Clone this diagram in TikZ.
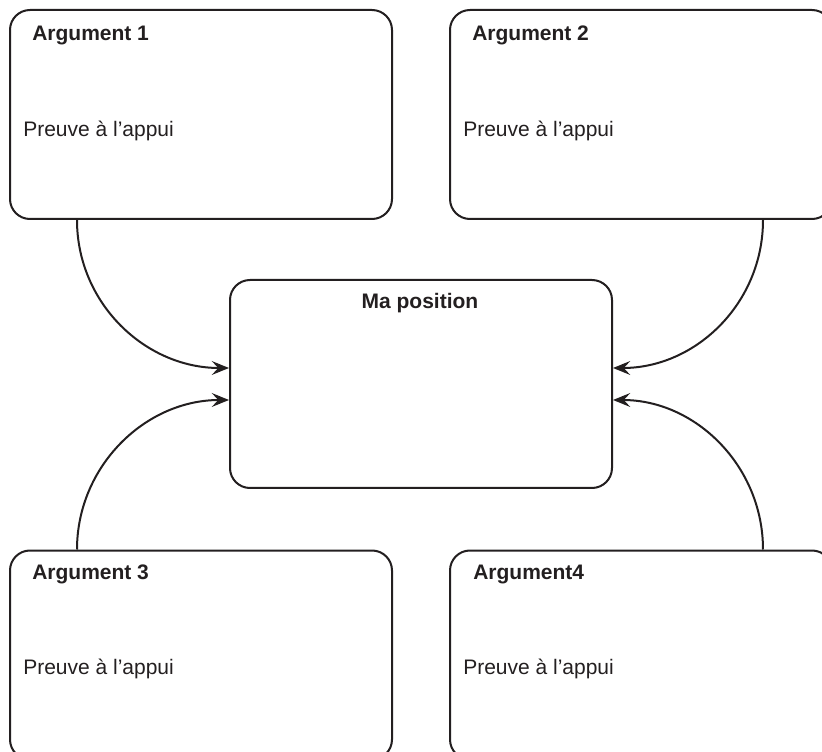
\documentclass[tikz,border=0pt]{standalone}
\usepackage{fontspec}
\setmainfont{Liberation Sans}
\usetikzlibrary{arrows.meta,calc}
\definecolor{ink}{HTML}{231F20}
\tikzset{
  box/.style={draw=ink, line width=1.5pt, rounded corners=15pt, rectangle,
    minimum width=286.5pt, minimum height=156.75pt, inner sep=0pt},
  title/.style={font=\fontsize{15.75pt}{18pt}\selectfont\bfseries, text=ink, inner sep=0pt, anchor=base west},
  body/.style={font=\fontsize{15.75pt}{18pt}\selectfont, text=ink, inner sep=0pt, anchor=base west},
  link/.style={draw=ink, line width=1.5pt, -{Stealth[length=13pt, width=10.5pt, inset=5pt]}}
}
\begin{document}
\begin{tikzpicture}[x=0.75pt, y=-0.75pt]
\useasboundingbox (0,0) rectangle (822,752);
\clip (0,0) rectangle (822,752);
% boxes
\node[box] (a1) at (201,114.5) {};
\node[box] (a2) at (641,114.5) {};
\node[box, minimum height=156pt] (ma) at (421,384) {};
\node[box] (a3) at (201,655) {};
\node[box] (a4) at (641,655) {};
% texts
\node[title] (t1) at (32,40.5) {Argument 1};
\node[body] (p1) at (23,136.5) {Preuve à l’appui};
\node[title] (t2) at (472,40.5) {Argument 2};
\node[body] (p2) at (463,136.5) {Preuve à l’appui};
\node[title, anchor=base] (tm) at (420,309) {Ma position};
\node[title] (t3) at (32,579) {Argument 3};
\node[body] (p3) at (23,674) {Preuve à l’appui};
\node[title] (t4) at (473,579) {Argument4};
\node[body] (p4) at (463,674) {Preuve à l’appui};
% connector points
\coordinate (s1) at ($(a1.south)+(-124,0)$);
\coordinate (s2) at ($(a2.south)+(122,0)$);
\coordinate (s3) at ($(a3.north)+(-124,0)$);
\coordinate (s4) at ($(a4.north)+(122,0)$);
\coordinate (e1) at ($(ma.west)+(0,-16)$);
\coordinate (e2) at ($(ma.east)+(0,-16)$);
\coordinate (e3) at ($(ma.west)+(0,16)$);
\coordinate (e4) at ($(ma.east)+(0,16)$);
\draw[link] (s1) .. controls +(0,83) and +(-84,0) .. (e1);
\draw[link] (s2) .. controls +(0,83) and +(83,0) .. (e2);
\draw[link] (s3) .. controls +(0,-83) and +(-84,0) .. (e3);
\draw[link] (s4) .. controls +(0,-83) and +(83,0) .. (e4);
\end{tikzpicture}
\end{document}
